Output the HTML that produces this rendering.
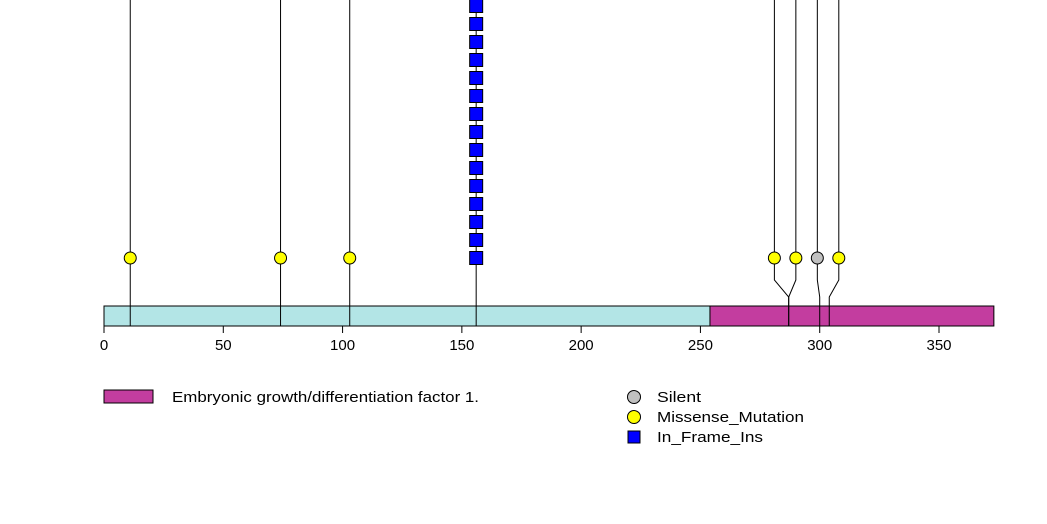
<!DOCTYPE html>
<html><head><meta charset="utf-8"><style>body{margin:0;background:#fff}svg{display:block;font-family:"Liberation Sans",sans-serif}</style></head>
<body>
<svg id="c" width="1047" height="524"></svg>
<script>
const ticks=[0,50,100,150,200,250,300,350];
const proteinLen=373;
const domainStarts=[0,254];const domainEnds=[254,373];const domainColors=["#b3e5e6","#c33d9f"];
const mutPos=[11,74,103,287,287,300,304];
const mutDispPos=[11,74,103,281,290,299,308];
const mutType=["Missense_Mutation","Missense_Mutation","Missense_Mutation","Missense_Mutation","Missense_Mutation","Silent","Missense_Mutation"];
const insPos=[156];const insCount=[15];
const colors={Silent:"#c0c0c0",Missense_Mutation:"#ffff00",In_Frame_Ins:"#0000ff"};
const NS="http://www.w3.org/2000/svg",svg=document.getElementById('c');
const x=v=>104+v*835/350;
function el(t,a,p){const e=document.createElementNS(NS,t);for(const k in a)e.setAttribute(k,a[k]);(p||svg).appendChild(e);return e;}
mutPos.forEach((p,i)=>{const dx=x(mutDispPos[i]),bx=x(p);
 const l=el('polyline',{points:`${dx},0 ${dx},280 ${bx},297 ${bx},326`,fill:'none',stroke:'#000','stroke-width':1});
 });
insPos.forEach(p=>{const l=el('line',{x1:x(p),x2:x(p),y1:0,y2:326,stroke:'#000'});
 });
domainStarts.forEach((s,i)=>{const r=el('rect',{x:x(s),y:306,width:x(domainEnds[i])-x(s),height:20,fill:domainColors[i],stroke:'#000'});
 });
mutPos.forEach(p=>{el('line',{x1:x(p),x2:x(p),y1:306,y2:326,stroke:'#000'});});
insPos.forEach(p=>{el('line',{x1:x(p),x2:x(p),y1:306,y2:326,stroke:'#000'});});
mutDispPos.forEach((p,i)=>{const c=el('circle',{cx:x(p),cy:258,r:6,fill:colors[mutType[i]],stroke:'#000'});
 });
insPos.forEach((p,j)=>{for(let k=0;k<insCount[j];k++){const r=el('rect',{x:x(p)-6.5,y:258-18*k-6.5,width:13,height:13,fill:colors.In_Frame_Ins,stroke:'#000'});
 }});
ticks.forEach(t=>{el('line',{x1:x(t),x2:x(t),y1:326,y2:333,stroke:'#000'});
 const tx=el('text',{x:x(t),y:350,'text-anchor':'middle','font-size':15});tx.textContent=t;
 });
const lr=el('rect',{x:104,y:390,width:49,height:13,fill:'#c33d9f',stroke:'#000'});

const lt=el('text',{x:172,y:402,'font-size':15,textLength:307,lengthAdjust:'spacingAndGlyphs'});lt.textContent='Embryonic growth/differentiation factor 1.';

const legNames=["Silent","Missense_Mutation","In_Frame_Ins"];
const legLen=[44,147,106];
legNames.forEach((n,i)=>{const y=397+20*i;
 const m=n==='In_Frame_Ins'?el('rect',{x:628,y:y-6,width:12,height:12,fill:colors[n],stroke:'#000'}):el('circle',{cx:634,cy:y,r:6.5,fill:colors[n],stroke:'#000'});
 
 const t=el('text',{x:657,y:y+5,'font-size':15,textLength:legLen[i],lengthAdjust:'spacingAndGlyphs'});t.textContent=n;
 });
</script>
</body></html>
